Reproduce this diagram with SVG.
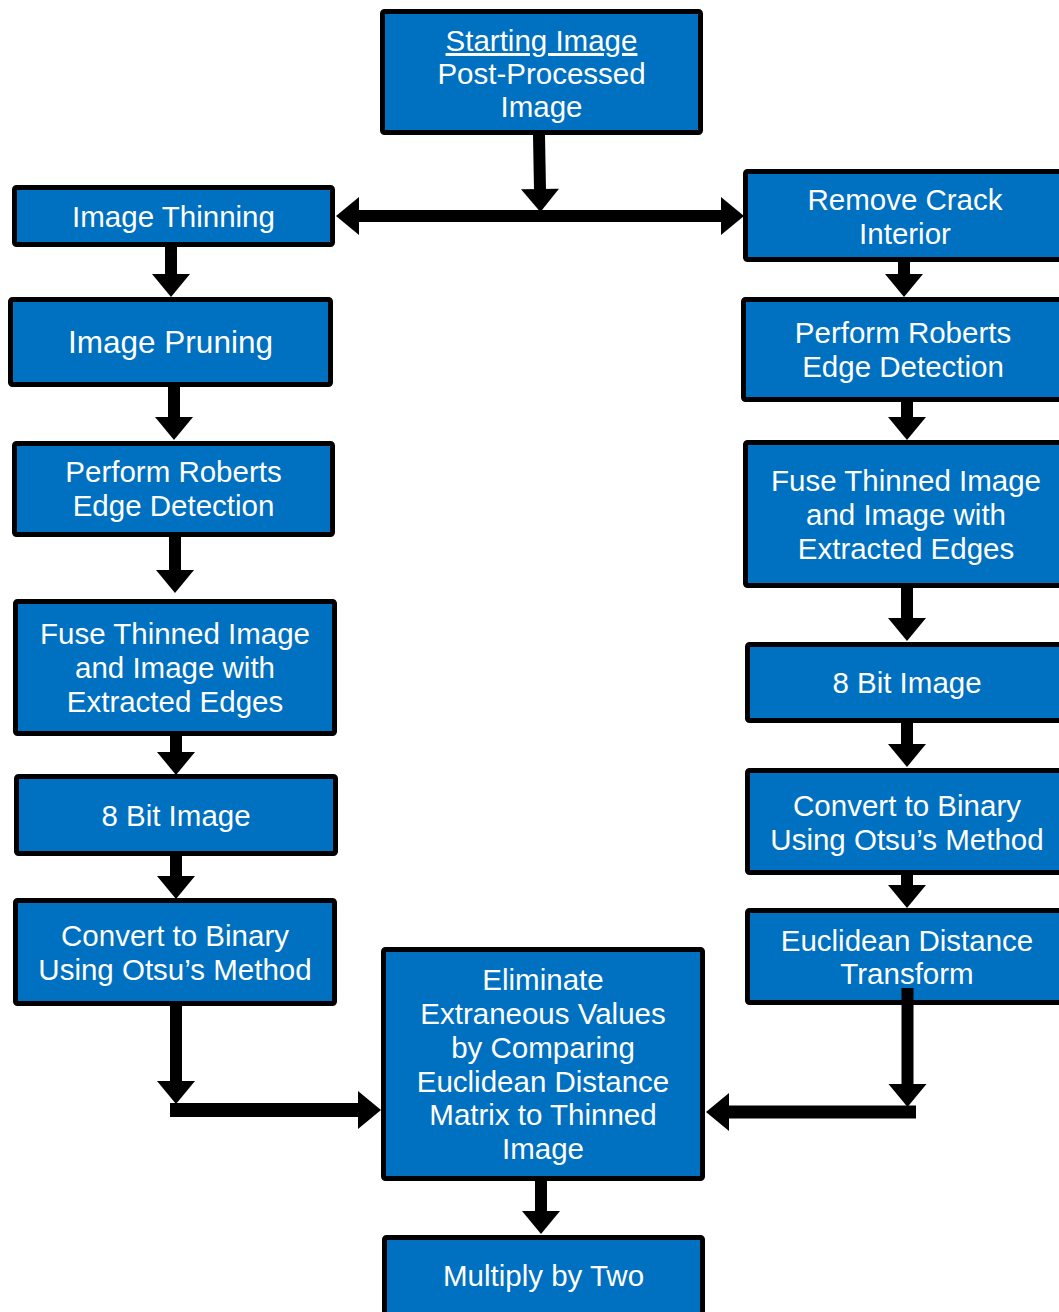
<svg xmlns="http://www.w3.org/2000/svg" width="1059" height="1312" viewBox="0 0 1059 1312">
<style>
.box{fill:#0070C0;stroke:#000;stroke-width:5;}
.t{font-family:"Liberation Sans",Arial,sans-serif;font-size:29.5px;fill:#fff;text-anchor:middle;}
.big{font-size:31.5px;}
.c{stroke:#000;stroke-width:12;fill:none;stroke-linecap:butt;}
</style>
<defs>
<marker id="ah" markerUnits="userSpaceOnUse" markerWidth="24" markerHeight="38" refX="0" refY="19" orient="auto-start-reverse" overflow="visible">
<path d="M-1,0 L22,19 L-1,38 Z" fill="#000"/>
</marker>
</defs>
<rect width="1059" height="1312" fill="#fff"/>
<g id="nodes">
<g id="start">
<rect class="box" x="382.5" y="11.5" width="318" height="121" rx="2"/>
<text class="t" x="541.5" y="51" text-decoration="underline">Starting Image</text>
<text class="t" x="541.5" y="84">Post-Processed</text>
<text class="t" x="541.5" y="117">Image</text>
</g>
<g id="thin">
<rect class="box" x="14.5" y="187.5" width="318" height="57" rx="2"/>
<text class="t" x="173.5" y="227">Image Thinning</text>
</g>
<g id="prune">
<rect class="box" x="10.5" y="299.5" width="320" height="85" rx="2"/>
<text class="t big" x="170.5" y="353">Image Pruning</text>
</g>
<g id="robertsL">
<rect class="box" x="14.5" y="443.5" width="318" height="91" rx="2"/>
<text class="t" x="173.5" y="482">Perform Roberts</text>
<text class="t" x="173.5" y="516">Edge Detection</text>
</g>
<g id="fuseL">
<rect class="box" x="15.5" y="601.5" width="319" height="132" rx="2"/>
<text class="t" x="175" y="644">Fuse Thinned Image</text>
<text class="t" x="175" y="678">and Image with</text>
<text class="t" x="175" y="712">Extracted Edges</text>
</g>
<g id="bitL">
<rect class="box" x="16.5" y="776.5" width="319" height="77" rx="2"/>
<text class="t" x="176" y="826">8 Bit Image</text>
</g>
<g id="convL">
<rect class="box" x="15.5" y="900.5" width="319" height="103" rx="2"/>
<text class="t" x="175" y="946">Convert to Binary</text>
<text class="t" x="175" y="980">Using Otsu’s Method</text>
</g>
<g id="removeCrack">
<rect class="box" x="745.5" y="171.5" width="319" height="88" rx="2"/>
<text class="t" x="905" y="210">Remove Crack</text>
<text class="t" x="905" y="244">Interior</text>
</g>
<g id="robertsR">
<rect class="box" x="743.5" y="299.5" width="319" height="100" rx="2"/>
<text class="t" x="903" y="343">Perform Roberts</text>
<text class="t" x="903" y="377">Edge Detection</text>
</g>
<g id="fuseR">
<rect class="box" x="745.5" y="442.5" width="321" height="143" rx="2"/>
<text class="t" x="906" y="491">Fuse Thinned Image</text>
<text class="t" x="906" y="525">and Image with</text>
<text class="t" x="906" y="559">Extracted Edges</text>
</g>
<g id="bitR">
<rect class="box" x="747.5" y="644.5" width="319" height="76" rx="2"/>
<text class="t" x="907" y="693">8 Bit Image</text>
</g>
<g id="convR">
<rect class="box" x="747.5" y="770.5" width="319" height="102" rx="2"/>
<text class="t" x="907" y="816">Convert to Binary</text>
<text class="t" x="907" y="850">Using Otsu’s Method</text>
</g>
<g id="euclid">
<rect class="box" x="747.5" y="910.5" width="319" height="92" rx="2"/>
<text class="t" x="907" y="951">Euclidean Distance</text>
<text class="t" x="907" y="984">Transform</text>
</g>
<g id="eliminate">
<rect class="box" x="383.5" y="949.5" width="319" height="229" rx="2"/>
<text class="t" x="543" y="990">Eliminate</text>
<text class="t" x="543" y="1024">Extraneous Values</text>
<text class="t" x="543" y="1058">by Comparing</text>
<text class="t" x="543" y="1092">Euclidean Distance</text>
<text class="t" x="543" y="1125">Matrix to Thinned</text>
<text class="t" x="543" y="1159">Image</text>
</g>
<g id="multiply">
<rect class="box" x="384.5" y="1237.5" width="318" height="90" rx="2"/>
<text class="t" x="543.5" y="1286">Multiply by Two</text>
</g>
</g>
<g id="connectors">
<line class="c" x1="539" y1="135" x2="540" y2="190" marker-end="url(#ah)"/>
<line class="c" x1="358" y1="216" x2="722" y2="216" marker-start="url(#ah)" marker-end="url(#ah)"/>
<line class="c" x1="171" y1="245" x2="171" y2="275" marker-end="url(#ah)"/>
<line class="c" x1="174" y1="385" x2="174" y2="418" marker-end="url(#ah)"/>
<line class="c" x1="175" y1="535" x2="175" y2="571" marker-end="url(#ah)"/>
<line class="c" x1="176" y1="734" x2="176" y2="753" marker-end="url(#ah)"/>
<line class="c" x1="176" y1="854" x2="176" y2="877" marker-end="url(#ah)"/>
<line class="c" x1="176" y1="1004" x2="176" y2="1082" marker-end="url(#ah)"/>
<line x1="170" y1="1110" x2="359" y2="1110" stroke="#000" stroke-width="14" marker-end="url(#ah)"/>
<line class="c" x1="904" y1="260" x2="904" y2="275" marker-end="url(#ah)"/>
<line class="c" x1="907" y1="400" x2="907" y2="418" marker-end="url(#ah)"/>
<line class="c" x1="907" y1="586" x2="907" y2="619" marker-end="url(#ah)"/>
<line class="c" x1="907" y1="721" x2="907" y2="745" marker-end="url(#ah)"/>
<line class="c" x1="907" y1="873" x2="907" y2="886" marker-end="url(#ah)"/>
<line class="c" x1="907.5" y1="988" x2="907.5" y2="1085" marker-end="url(#ah)"/>
<line x1="916" y1="1112" x2="728" y2="1112" stroke="#000" stroke-width="13" marker-end="url(#ah)"/>
<line class="c" x1="541" y1="1180" x2="541" y2="1212" marker-end="url(#ah)"/>
</g>
</svg>
